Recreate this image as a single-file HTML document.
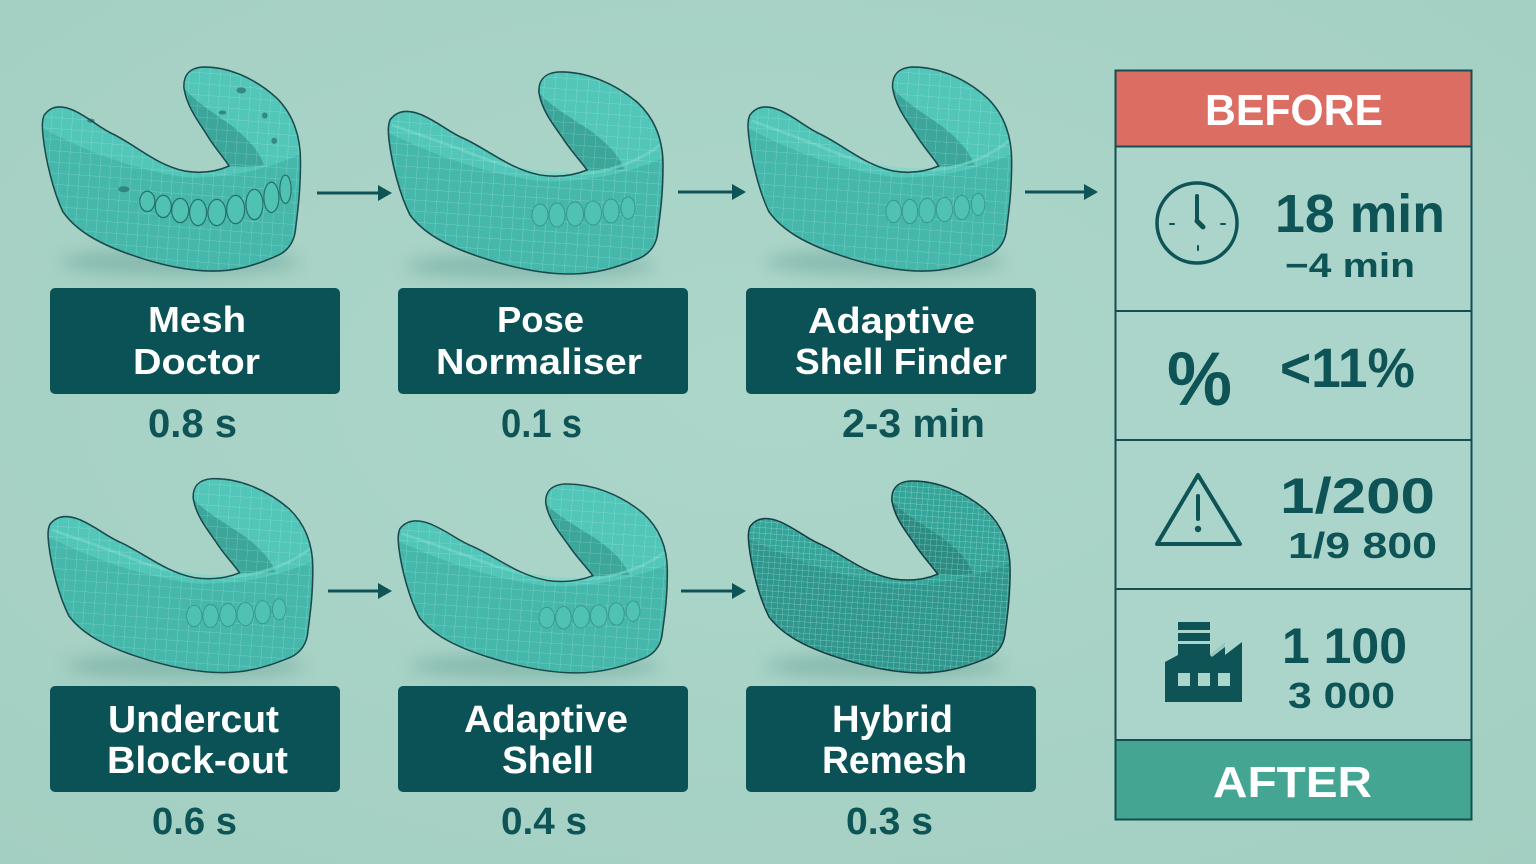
<!DOCTYPE html>
<html>
<head>
<meta charset="utf-8">
<style>
  html,body{margin:0;padding:0;background:#a8d3c7;}
  body{width:1536px;height:864px;overflow:hidden;}
  svg{display:block;}
  .lbl{font-family:"Liberation Sans",sans-serif;font-weight:bold;fill:#ffffff;}
  .tm{font-family:"Liberation Sans",sans-serif;font-weight:bold;fill:#0e5457;}
  .pn{font-family:"Liberation Sans",sans-serif;font-weight:bold;fill:#0e5457;}
</style>
</head>
<body>
<svg width="1536" height="864" viewBox="0 0 1536 864" xmlns="http://www.w3.org/2000/svg">
  <defs>
    <radialGradient id="bg" cx="50%" cy="45%" r="75%">
      <stop offset="0" stop-color="#acd6ca"/>
      <stop offset="1" stop-color="#a3cfc2"/>
    </radialGradient>
    <filter id="blur" x="-30%" y="-30%" width="160%" height="160%">
      <feGaussianBlur stdDeviation="8"/>
    </filter>
    <pattern id="grid" width="11" height="11" patternUnits="userSpaceOnUse" patternTransform="rotate(4)">
      <path d="M0,0 H11 M0,0 V11" stroke="#e9fffb" stroke-opacity="0.35" stroke-width="0.8" fill="none"/>
    </pattern>
    <pattern id="gridd" width="6" height="6" patternUnits="userSpaceOnUse" patternTransform="rotate(4)">
      <path d="M0,0 H6 M0,0 V6" stroke="#d8fff8" stroke-opacity="0.55" stroke-width="0.7" fill="none"/>
    </pattern>
    <path id="outer" d="M10,55 C18,44 30,45 42,50 C60,58 70,68 85,74 C110,86 130,104 160,110 C180,113 195,110 207,105 C200,95 190,85 182,72 C172,58 162,45 159,28 C158,15 165,8 178,7 C205,6 235,18 258,38 C275,54 283,75 283,100 C283,130 280,150 278,165 C277,180 270,190 255,195 C235,203 215,209 190,209 C160,209 130,202 100,192 C70,182 45,170 30,150 C20,130 12,100 9,75 C8,65 8,60 10,55 Z"/>
    <path id="front" d="M9,68 C50,88 100,108 160,116 C200,118 245,110 283,93 L283,100 C283,130 280,150 278,165 C277,180 270,190 255,195 C235,203 215,209 190,209 C160,209 130,202 100,192 C70,182 45,170 30,150 C20,130 12,100 9,68 Z"/>
    <path id="inwall" d="M207,105 C200,95 190,85 182,72 C172,58 162,45 159,28 C172,42 190,52 208,64 C228,78 240,92 244,104 C232,106 220,106 207,105 Z"/>
    <symbol id="model" overflow="visible">
      <use href="#outer" fill="#52c6b8"/>
      <use href="#front" fill="#46b8ab"/>
      <use href="#inwall" fill="#3ca69b"/>
      <path d="M12,60 C40,70 70,80 95,90 C130,104 170,112 210,108 C240,104 265,92 280,80" stroke="#7ad9cc" stroke-width="3" fill="none" opacity="0.6"/>
      <use href="#outer" fill="url(#grid)"/>
      <g fill="#50c2b4" stroke="#2b7f79" stroke-width="1" stroke-opacity="0.6">
        <ellipse cx="160" cy="150" rx="8" ry="11"/>
        <ellipse cx="177" cy="150" rx="8" ry="12"/>
        <ellipse cx="195" cy="149" rx="8.5" ry="12"/>
        <ellipse cx="213" cy="148" rx="8.5" ry="12"/>
        <ellipse cx="231" cy="146" rx="8" ry="12"/>
        <ellipse cx="248" cy="143" rx="7" ry="11"/>
      </g>
      <use href="#outer" fill="none" stroke="#1c4a4c" stroke-width="1.6"/>
    </symbol>
    <symbol id="model1" overflow="visible">
      <use href="#outer" fill="#52c6b8"/>
      <use href="#front" fill="#46b8ab"/>
      <use href="#inwall" fill="#3ca69b"/>
      <use href="#outer" fill="url(#grid)"/>
      <g fill="#50c2b4" stroke="#1f5f5c" stroke-width="1.3" stroke-opacity="0.8">
        <ellipse cx="120" cy="140" rx="8" ry="10"/>
        <ellipse cx="137" cy="145" rx="8.5" ry="11"/>
        <ellipse cx="155" cy="149" rx="9" ry="12"/>
        <ellipse cx="174" cy="151" rx="9" ry="13"/>
        <ellipse cx="194" cy="151" rx="9.5" ry="13"/>
        <ellipse cx="214" cy="148" rx="9.5" ry="14"/>
        <ellipse cx="234" cy="143" rx="9" ry="15"/>
        <ellipse cx="252" cy="136" rx="8" ry="15"/>
        <ellipse cx="267" cy="128" rx="6" ry="14"/>
      </g>
      <g fill="#2a6f6b" opacity="0.7">
        <ellipse cx="95" cy="128" rx="6" ry="3"/>
        <ellipse cx="60" cy="60" rx="4" ry="2"/>
        <ellipse cx="200" cy="52" rx="4" ry="2"/>
        <ellipse cx="220" cy="30" rx="5" ry="3"/>
        <ellipse cx="245" cy="55" rx="3" ry="3"/>
        <ellipse cx="255" cy="80" rx="3" ry="3"/>
      </g>
      <use href="#outer" fill="none" stroke="#1c4a4c" stroke-width="1.6"/>
    </symbol>
    <symbol id="model6" overflow="visible">
      <use href="#outer" fill="#35a59a"/>
      <use href="#front" fill="#2f978d"/>
      <use href="#inwall" fill="#2b8c83"/>
      <use href="#outer" fill="url(#gridd)"/>
      <use href="#outer" fill="none" stroke="#173f42" stroke-width="1.6"/>
    </symbol>
  </defs>

  <rect x="0" y="0" width="1536" height="864" fill="url(#bg)"/>

  <!-- shadows -->
  <g fill="#4f8f86" opacity="0.35" filter="url(#blur)">
    <ellipse cx="180" cy="262" rx="120" ry="14"/>
    <ellipse cx="530" cy="266" rx="125" ry="14"/>
    <ellipse cx="885" cy="262" rx="120" ry="14"/>
    <ellipse cx="185" cy="666" rx="120" ry="13"/>
    <ellipse cx="535" cy="666" rx="125" ry="13"/>
    <ellipse cx="885" cy="666" rx="120" ry="13"/>
  </g>

  <!-- models -->
  <use href="#model1" transform="translate(34.5,60) scale(0.94,1.01)"/>
  <use href="#model" transform="translate(380,65)"/>
  <use href="#model" transform="translate(740,60) scale(0.96,1.01)"/>
  <use href="#model" transform="translate(40,472) scale(0.964,0.96)"/>
  <use href="#model" transform="translate(390,477.5) scale(0.98,0.935)"/>
  <use href="#model6" transform="translate(740.4,474.4) scale(0.953,0.95)"/>

  <!-- arrows -->
  <g stroke="#0e5457" stroke-width="3" fill="#0e5457">
    <line x1="317" y1="193" x2="380" y2="193"/>
    <line x1="678" y1="192" x2="734" y2="192"/>
    <line x1="1025" y1="192" x2="1086" y2="192"/>
    <line x1="328" y1="591" x2="380" y2="591"/>
    <line x1="681" y1="591" x2="734" y2="591"/>
  </g>
  <g fill="#0e5457">
    <path d="M378,185 L392,193 L378,201 Z"/>
    <path d="M732,184 L746,192 L732,200 Z"/>
    <path d="M1084,184 L1098,192 L1084,200 Z"/>
    <path d="M378,583 L392,591 L378,599 Z"/>
    <path d="M732,583 L746,591 L732,599 Z"/>
  </g>

  <!-- label boxes -->
  <g fill="#0b5256">
    <rect x="50" y="288" width="290" height="106" rx="5"/>
    <rect x="398" y="288" width="290" height="106" rx="5"/>
    <rect x="746" y="288" width="290" height="106" rx="5"/>
    <rect x="50" y="686" width="290" height="106" rx="5"/>
    <rect x="398" y="686" width="290" height="106" rx="5"/>
    <rect x="746" y="686" width="290" height="106" rx="5"/>
  </g>

  <g class="lbl" font-size="36">
    <text x="148" y="332" textLength="98" lengthAdjust="spacingAndGlyphs">Mesh</text>
    <text x="133" y="374" textLength="127" lengthAdjust="spacingAndGlyphs">Doctor</text>
    <text x="497" y="332" textLength="87" lengthAdjust="spacingAndGlyphs">Pose</text>
    <text x="436" y="374" textLength="206" lengthAdjust="spacingAndGlyphs">Normaliser</text>
    <text x="808" y="333" textLength="167" lengthAdjust="spacingAndGlyphs">Adaptive</text>
    <text x="795" y="374" textLength="212" lengthAdjust="spacingAndGlyphs">Shell Finder</text>
  </g>
  <g class="lbl" font-size="38">
    <text x="108" y="732" textLength="171" lengthAdjust="spacingAndGlyphs">Undercut</text>
    <text x="107" y="773" textLength="181" lengthAdjust="spacingAndGlyphs">Block-out</text>
    <text x="464" y="732" textLength="164" lengthAdjust="spacingAndGlyphs">Adaptive</text>
    <text x="502" y="773" textLength="92" lengthAdjust="spacingAndGlyphs">Shell</text>
    <text x="832" y="732" textLength="121" lengthAdjust="spacingAndGlyphs">Hybrid</text>
    <text x="822" y="773" textLength="145" lengthAdjust="spacingAndGlyphs">Remesh</text>
  </g>

  <g class="tm" font-size="40">
    <text x="148" y="437" textLength="89" lengthAdjust="spacingAndGlyphs">0.8 s</text>
    <text x="501" y="437" textLength="81" lengthAdjust="spacingAndGlyphs">0.1 s</text>
    <text x="842" y="437" textLength="143" lengthAdjust="spacingAndGlyphs">2-3 min</text>
  </g>
  <g class="tm" font-size="38">
    <text x="152" y="834" textLength="85" lengthAdjust="spacingAndGlyphs">0.6 s</text>
    <text x="501" y="834" textLength="86" lengthAdjust="spacingAndGlyphs">0.4 s</text>
    <text x="846" y="834" textLength="87" lengthAdjust="spacingAndGlyphs">0.3 s</text>
  </g>

  <!-- right panel -->
  <rect x="1116" y="71" width="355" height="748" fill="#abd5ca"/>
  <rect x="1116" y="71" width="355" height="75" fill="#dc6d63"/>
  <rect x="1116" y="740" width="355" height="79" fill="#44a592"/>
  <g stroke="#134f52" stroke-width="2" fill="none">
    <rect x="1115.5" y="70.5" width="356" height="749"/>
    <line x1="1115" y1="146.5" x2="1472" y2="146.5"/>
    <line x1="1115" y1="311" x2="1472" y2="311"/>
    <line x1="1115" y1="440" x2="1472" y2="440"/>
    <line x1="1115" y1="589" x2="1472" y2="589"/>
    <line x1="1115" y1="740" x2="1472" y2="740"/>
  </g>

  <text class="lbl" x="1205" y="125" font-size="44" textLength="178" lengthAdjust="spacingAndGlyphs">BEFORE</text>
  <text class="lbl" x="1213" y="797" font-size="44" textLength="159" lengthAdjust="spacingAndGlyphs">AFTER</text>

  <!-- clock -->
  <g stroke="#0e5457" fill="none" stroke-linecap="round">
    <circle cx="1197" cy="223" r="40" stroke-width="3.5"/>
    <line x1="1197" y1="196" x2="1197" y2="221" stroke-width="4"/>
    <line x1="1197" y1="221" x2="1203" y2="227" stroke-width="5"/>
    <line x1="1170" y1="224" x2="1174" y2="224" stroke-width="2"/>
    <line x1="1221" y1="224" x2="1225" y2="224" stroke-width="2"/>
    <line x1="1198" y1="246" x2="1198" y2="250" stroke-width="2"/>
  </g>
  <text class="pn" x="1275" y="232" font-size="54" textLength="170" lengthAdjust="spacingAndGlyphs">18 min</text>
  <text class="pn" x="1285" y="277" font-size="34" textLength="130" lengthAdjust="spacingAndGlyphs">−4 min</text>

  <text class="pn" x="1167" y="405" font-size="76" textLength="65" lengthAdjust="spacingAndGlyphs">%</text>
  <text class="pn" x="1280" y="387" font-size="56" textLength="135" lengthAdjust="spacingAndGlyphs">&lt;11%</text>

  <!-- warning -->
  <g stroke="#0e5457" fill="none" stroke-linejoin="round" stroke-linecap="round">
    <path d="M1198,475 L1240,544 L1157,544 Z" stroke-width="4"/>
    <line x1="1198" y1="496" x2="1198" y2="519" stroke-width="4"/>
  </g>
  <circle cx="1198" cy="529" r="3.2" fill="#0e5457"/>
  <text class="pn" x="1280" y="513" font-size="50" textLength="155" lengthAdjust="spacingAndGlyphs">1/200</text>
  <text class="pn" x="1288" y="558" font-size="36" textLength="149" lengthAdjust="spacingAndGlyphs">1/9 800</text>

  <!-- factory -->
  <g fill="#0e5457">
    <rect x="1178" y="622" width="32" height="8"/>
    <rect x="1178" y="633" width="32" height="8"/>
    <path d="M1165,702 L1165,662 L1178,655 L1178,644 L1210,644 L1210,655 L1225,643 L1225,655 L1242,642 L1242,702 Z"/>
  </g>
  <g fill="#abd5ca">
    <path d="M1210,655 L1225,643 L1225,647 L1212,657 Z" opacity="0.9"/>
    <rect x="1178" y="673" width="12" height="13"/>
    <rect x="1198" y="673" width="12" height="13"/>
    <rect x="1218" y="673" width="12" height="13"/>
  </g>
  <text class="pn" x="1282" y="663" font-size="50" textLength="125" lengthAdjust="spacingAndGlyphs">1 100</text>
  <text class="pn" x="1288" y="708" font-size="36" textLength="107" lengthAdjust="spacingAndGlyphs">3 000</text>
</svg>
</body>
</html>
